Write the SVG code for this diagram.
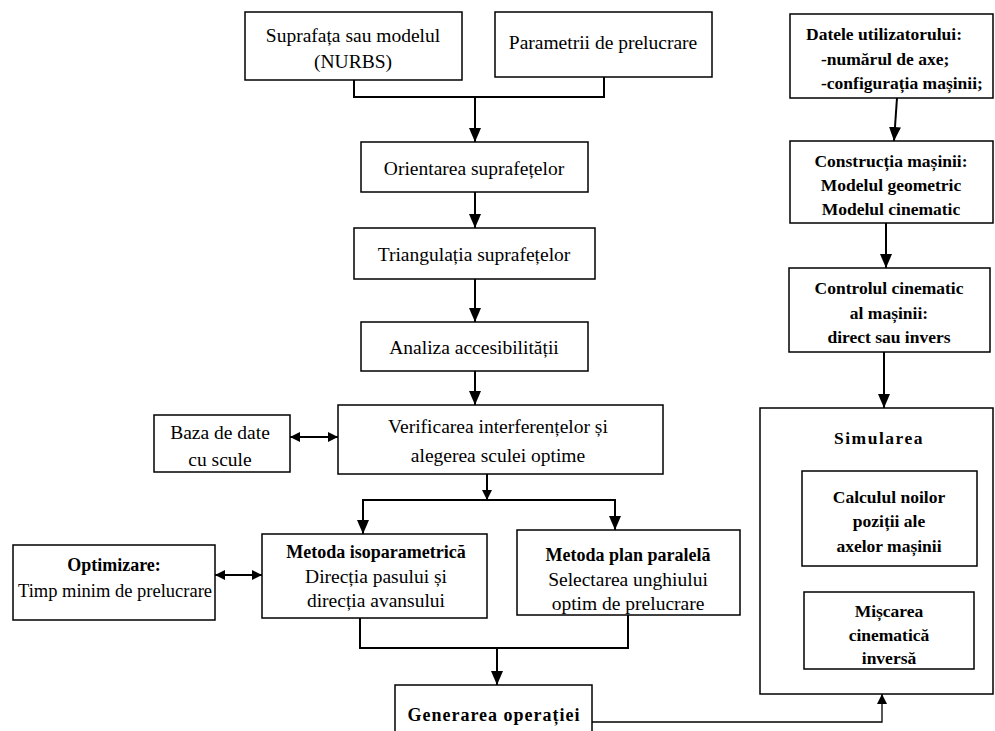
<svg xmlns="http://www.w3.org/2000/svg" width="995" height="731" viewBox="0 0 995 731">
<defs>
<marker id="ah" viewBox="0 0 10 10" refX="10" refY="5" markerWidth="10" markerHeight="10" markerUnits="userSpaceOnUse" orient="auto-start-reverse">
<path d="M0,0 L10,5 L0,10 z" fill="#000"/>
</marker>
<marker id="ahb" viewBox="0 0 10 10" refX="10" refY="5" markerWidth="14" markerHeight="12" markerUnits="userSpaceOnUse" orient="auto-start-reverse" preserveAspectRatio="none">
<path d="M0,0 L10,5 L0,10 z" fill="#000"/>
</marker>
</defs>
<style>
rect{fill:#fff;stroke:#000;stroke-width:1.5}
text{font-family:"Liberation Serif","Times New Roman",serif;font-size:19.5px;fill:#000;text-anchor:middle}
.b{font-weight:bold;font-size:17.5px}
.bl{font-weight:bold;font-size:18px}
.c{fill:none;stroke:#000;stroke-width:2}
.t{fill:none;stroke:#000;stroke-width:1.3}
</style>
<rect x="0" y="0" width="995" height="731" style="fill:#fff;stroke:none"/>
<g id="connectors">
<polyline class="c" points="354,80 354,97 604,97 604,77"/>
<line class="c" x1="475" y1="97" x2="475" y2="142" marker-end="url(#ahb)"/>
<line class="c" x1="475" y1="192" x2="475" y2="228" marker-end="url(#ahb)"/>
<line class="c" x1="475" y1="279" x2="475" y2="322" marker-end="url(#ahb)"/>
<line class="c" x1="475" y1="371" x2="475" y2="405" marker-end="url(#ahb)"/>
<line class="c" x1="290" y1="437" x2="338" y2="437" marker-start="url(#ah)" marker-end="url(#ah)"/>
<line class="c" x1="487" y1="474" x2="487" y2="500" marker-end="url(#ah)"/>
<polyline class="c" points="363,534 363,500 615,500 615,530" marker-start="url(#ahb)" marker-end="url(#ahb)"/>
<line class="c" x1="215" y1="575" x2="262" y2="575" marker-start="url(#ah)" marker-end="url(#ah)"/>
<polyline class="c" points="360,618 360,648 628,648 628,615"/>
<line class="c" x1="497" y1="648" x2="497" y2="685" marker-end="url(#ahb)"/>
<polyline class="t" points="592,722 882,722 882,694" marker-end="url(#ah)"/>
<line class="c" x1="897" y1="98" x2="894" y2="141" marker-end="url(#ahb)"/>
<line class="c" x1="886" y1="223" x2="886" y2="268" marker-end="url(#ahb)"/>
<line class="c" x1="884" y1="352" x2="884" y2="408" marker-end="url(#ahb)"/>
</g>
<g id="suprafata"><rect x="245" y="12" width="217" height="68"/><text x="353" y="42">Suprafața sau modelul</text><text x="353" y="68">(NURBS)</text></g>
<g id="parametrii"><rect x="495" y="12" width="217" height="65"/><text x="603" y="49">Parametrii de prelucrare</text></g>
<g id="orientarea"><rect x="361" y="142" width="227" height="50"/><text x="474" y="175">Orientarea suprafețelor</text></g>
<g id="triangulatia"><rect x="354" y="228" width="241" height="51"/><text x="474" y="261">Triangulația suprafețelor</text></g>
<g id="analiza"><rect x="361" y="322" width="227" height="49"/><text x="474" y="354">Analiza accesibilității</text></g>
<g id="verificarea"><rect x="338" y="405" width="325" height="69"/><text x="498" y="433">Verificarea interferențelor și</text><text x="498" y="462">alegerea sculei optime</text></g>
<g id="baza"><rect x="154" y="415" width="136" height="57"/><text x="220" y="439">Baza de date</text><text x="220" y="466">cu scule</text></g>
<g id="optimizare"><rect x="13" y="545" width="202" height="75"/><text class="bl" x="114" y="571">Optimizare:</text><text x="115" y="597" textLength="194" lengthAdjust="spacingAndGlyphs">Timp minim de prelucrare</text></g>
<g id="isoparametrica"><rect x="262" y="534" width="225" height="84"/><text class="bl" x="376" y="558">Metoda isoparametrică</text><text x="376" y="583">Direcția pasului și</text><text x="376" y="607">direcția avansului</text></g>
<g id="planparalela"><rect x="517" y="530" width="223" height="85"/><text class="bl" x="628" y="561">Metoda plan paralelă</text><text x="628" y="586">Selectarea unghiului</text><text x="628" y="610">optim de prelucrare</text></g>
<g id="generarea"><rect x="395" y="685" width="197" height="60"/><text class="bl" x="494" y="721" style="letter-spacing:1px">Generarea operației</text></g>
<g id="datele"><rect x="790" y="14" width="203" height="84"/><text class="b" x="806" y="40" style="text-anchor:start">Datele utilizatorului:</text><text class="b" x="821" y="65" style="text-anchor:start">-numărul de axe;</text><text class="b" x="821" y="89" style="text-anchor:start">-configurația mașinii;</text></g>
<g id="constructia"><rect x="790" y="141" width="203" height="82"/><text class="b" x="891" y="167">Construcția mașinii:</text><text class="b" x="891" y="191">Modelul geometric</text><text class="b" x="891" y="215">Modelul cinematic</text></g>
<g id="controlul"><rect x="789" y="268" width="201" height="84"/><text class="b" x="889" y="294">Controlul cinematic</text><text class="b" x="889" y="319">al mașinii:</text><text class="b" x="889" y="343">direct sau invers</text></g>
<g id="simularea"><rect x="760" y="408" width="233" height="286"/><text class="b" x="879" y="444" style="letter-spacing:1.5px">Simularea</text>
<g id="calculul"><rect x="802" y="471" width="175" height="95"/><text class="b" x="889" y="503">Calculul noilor</text><text class="b" x="889" y="527">poziții ale</text><text class="b" x="889" y="552">axelor mașinii</text></g>
<g id="miscarea"><rect x="804" y="592" width="170" height="77"/><text class="b" x="889" y="617">Mișcarea</text><text class="b" x="889" y="641">cinematică</text><text class="b" x="889" y="664">inversă</text></g>
</g>
</svg>
